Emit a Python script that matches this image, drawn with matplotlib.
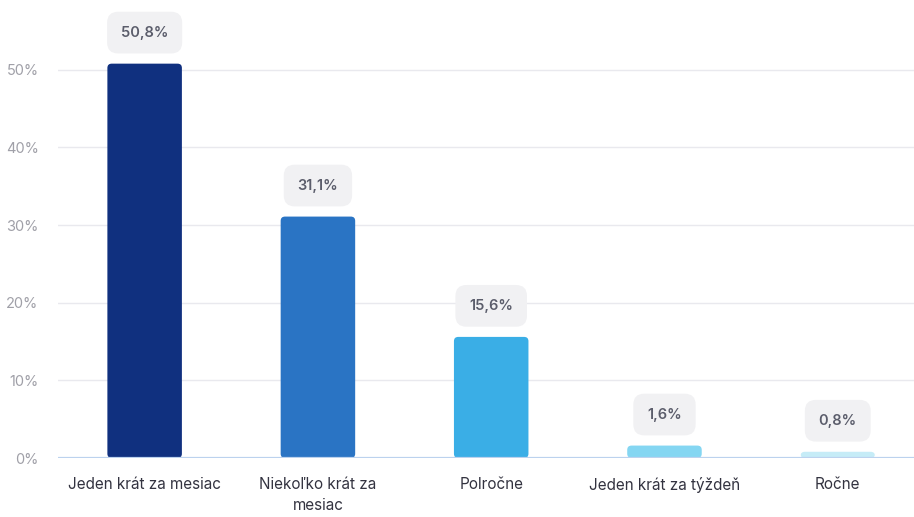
import matplotlib
matplotlib.use("Agg")
import matplotlib.pyplot as plt
from matplotlib.patches import FancyBboxPatch

plt.rcParams["font.family"] = ["Inter", "DejaVu Sans"]

categories = ["Jeden krát za mesiac", "Niekoľko krát za\nmesiac", "Polročne",
              "Jeden krát za týždeň", "Ročne"]
values = [50.8, 31.1, 15.6, 1.6, 0.8]
labels = ["50,8%", "31,1%", "15,6%", "1,6%", "0,8%"]
colors = ["#10307f", "#2a74c4", "#3aaee6", "#84d6f2", "#c6ecf7"]
yticks = [0, 10, 20, 30, 40, 50]

fig = plt.figure(figsize=(9.14, 5.17), dpi=100)
ax = fig.add_axes([58 / 914, 59 / 517, 856 / 914, 458 / 517])
ax.set_xlim(-0.5, 4.44)
ax.set_ylim(0, 59)

# grid
for t in yticks[1:]:
    ax.axhline(t, color="#e9e9ee", linewidth=1.0, zorder=0)
ax.axhline(0, color="#bcd2ee", linewidth=1.6, zorder=3)

bars = ax.bar(range(len(values)), values, width=0.43, color=colors)
# replace bars with rounded-top versions
for b in bars:
    x, y, w, h = b.get_x(), b.get_y(), b.get_width(), b.get_height()
    b.set_visible(False)
    p = FancyBboxPatch((x, y), w, h,
                       boxstyle="round,pad=0,rounding_size=0.025",
                       mutation_aspect=22, fc=b.get_facecolor(),
                       ec="none", zorder=2)
    ax.add_patch(p)

for i, (v, lab) in enumerate(zip(values, labels)):
    ax.text(i, v + 4.0, lab, ha="center", va="center", fontsize=10.5,
            fontweight="semibold", color="#5b5d6b", zorder=4,
            bbox=dict(boxstyle="round,pad=0.95,rounding_size=0.75",
                      fc="#f1f1f3", ec="none"))

ax.set_xticks(range(len(categories)))
ax.set_xticklabels(categories, fontsize=11, color="#333340", linespacing=1.45)
ax.set_yticks(yticks)
ax.set_yticklabels([f"{t}%" for t in yticks], fontsize=10.5, color="#a0a0a8")
ax.tick_params(axis="both", length=0)
ax.tick_params(axis="x", pad=14)
ax.tick_params(axis="y", pad=14)
for s in ax.spines.values():
    s.set_visible(False)

fig.savefig("out.png", dpi=100)
